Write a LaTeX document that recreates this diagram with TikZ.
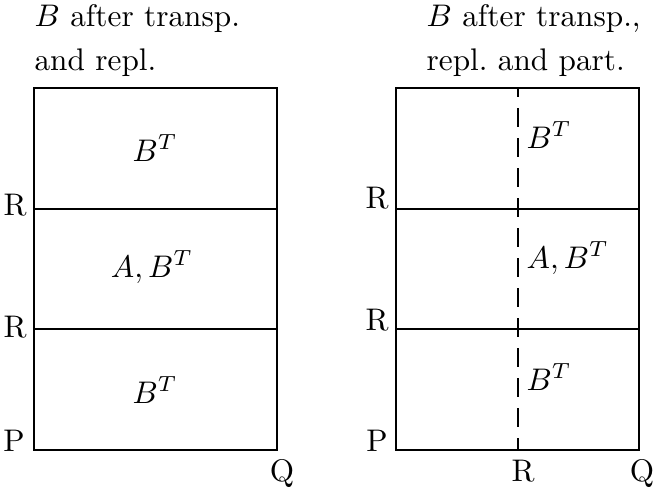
\documentclass[tikz,border=0pt]{standalone}
\begin{document}
\begin{tikzpicture}[x=0.32pt,y=-0.32pt,
  boxline/.style={thick},
  partline/.style={thick, dash pattern=on 6.1pt off 3.5pt, dash phase=3.1pt},
  lbl/.style={inner sep=0pt, anchor=base},
  inlbl/.style={inner sep=0pt, anchor=base west},
  ttl/.style={inner sep=0pt, anchor=base west, align=left}]
\useasboundingbox (0,0) rectangle (657,488);
% left box
\coordinate (LTL) at (34,88);
\coordinate (LBR) at (277,450);
\coordinate (LA1) at (34,209);
\coordinate (LB1) at (277,209);
\coordinate (LA2) at (34,329);
\coordinate (LB2) at (277,329);
\draw[boxline] (LTL) rectangle (LBR);
\draw[boxline] (LA1) -- (LB1);
\draw[boxline] (LA2) -- (LB2);
% right box
\coordinate (RTL) at (396,88);
\coordinate (RBR) at (639,450);
\coordinate (RA1) at (396,209);
\coordinate (RB1) at (639,209);
\coordinate (RA2) at (396,329);
\coordinate (RB2) at (639,329);
\coordinate (RDT) at (518,88);
\coordinate (RDB) at (518,450);
\draw[boxline] (RTL) rectangle (RBR);
\draw[boxline] (RA1) -- (RB1);
\draw[boxline] (RA2) -- (RB2);
\draw[partline] (RDT) -- (RDB);
% titles
\node[ttl] (t1) at (34,70) {$B$ after transp.\\[1.8pt]and repl.};
\node[ttl] (t2) at (426,70) {$B$ after transp.,\\[1.8pt]repl.\ and part.};
% left labels
\node[lbl] (lr1) at (15,215) {R};
\node[lbl] (lr2) at (15,337) {R};
\node[lbl] (lp) at (14,451) {P};
\node[lbl] (lq) at (282,481) {Q};
\node[lbl] (lc1) at (155,161) {$B^T$};
\node[lbl] (lc2) at (152,277) {$A,B^T$};
\node[lbl] (lc3) at (155,403) {$B^T$};
% right labels
\node[lbl] (rr1) at (377,208) {R};
\node[lbl] (rr2) at (377,330) {R};
\node[lbl] (rp) at (377,451) {P};
\node[lbl] (rr3) at (523,481) {R};
\node[lbl] (rq) at (642,481) {Q};
\node[inlbl] (rc1) at (526,148) {$B^T$};
\node[inlbl] (rc2) at (526,268) {$A,B^T$};
\node[inlbl] (rc3) at (526,390) {$B^T$};
\end{tikzpicture}
\end{document}
